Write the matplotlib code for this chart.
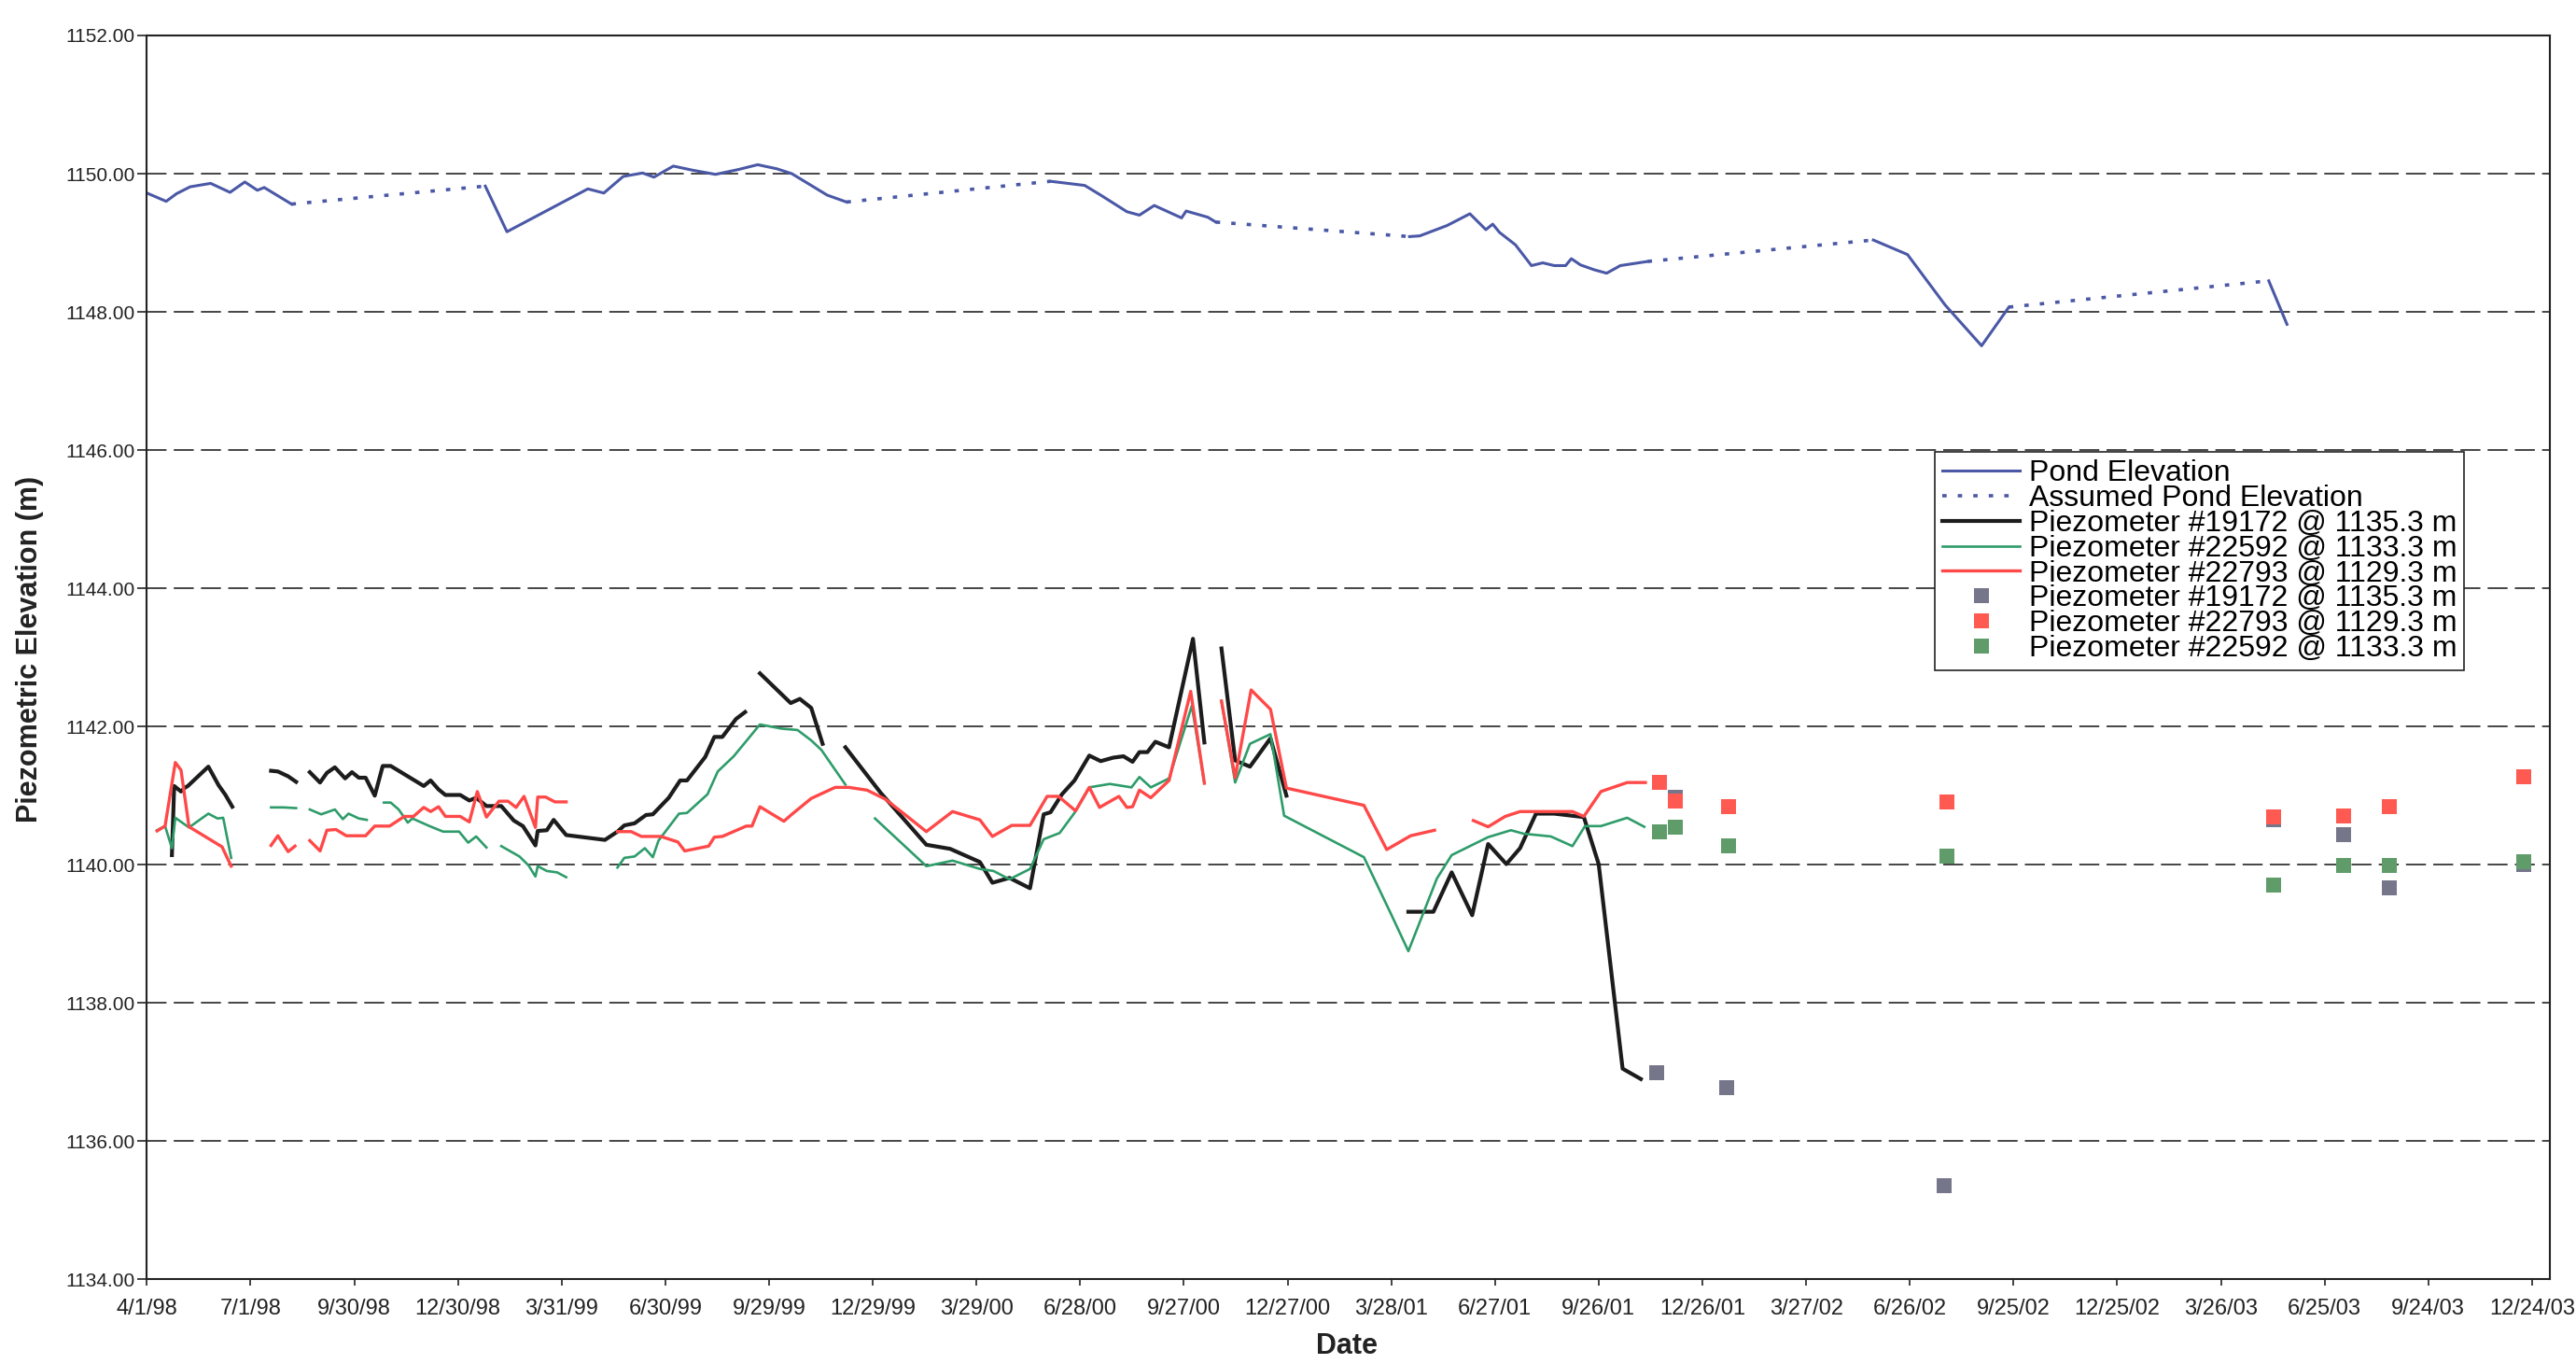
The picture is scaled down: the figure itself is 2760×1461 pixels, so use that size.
import numpy as np
import matplotlib
matplotlib.use('Agg')
import matplotlib.pyplot as plt

plt.rcParams['font.family'] = ['Liberation Sans', 'DejaVu Sans']

# x axis: days since 4/1/98, ticks every 91 days
tick_labels = ['4/1/98', '7/1/98', '9/30/98', '12/30/98', '3/31/99', '6/30/99',
               '9/29/99', '12/29/99', '3/29/00', '6/28/00', '9/27/00', '12/27/00',
               '3/28/01', '6/27/01', '9/26/01', '12/26/01', '3/27/02', '6/26/02',
               '9/25/02', '12/25/02', '3/26/03', '6/25/03', '9/24/03', '12/24/03']
tick_step = 91

# Pond elevation (measured), None = gap
pond_days = [0, 17, 26, 38, 56, 73, 86, 97, 103, 127, None,
             297, 316, 387, 401, 418, 435, 445, 462, 479, 499, 519, 536, 553, 566, 597, 614, None,
             793, 823, 837, 860, 871, 884, 908, 912, 931, 938, None,
             1108, 1117, 1141, 1161, 1175, 1181, 1187, 1201, 1215, 1225, 1235, 1245, 1250, 1258,
             1270, 1281, 1293, 1317, None,
             1515, 1545, 1578, 1610, 1634, None,
             1862, 1878]
pond_vals = [1149.72, 1149.60, 1149.71, 1149.81, 1149.86, 1149.73, 1149.88, 1149.76, 1149.80, 1149.56, None,
             1149.82, 1149.16, 1149.78, 1149.72, 1149.96, 1150.01, 1149.95, 1150.11, 1150.05, 1149.99,
             1150.06, 1150.13, 1150.07, 1150.00, 1149.69, 1149.59, None,
             1149.89, 1149.83, 1149.69, 1149.45, 1149.40, 1149.54, 1149.36, 1149.46, 1149.37, 1149.30, None,
             1149.09, 1149.10, 1149.25, 1149.42, 1149.19, 1149.27, 1149.15, 1148.97, 1148.67, 1148.71,
             1148.67, 1148.67, 1148.77, 1148.68, 1148.61, 1148.56, 1148.67, 1148.73, None,
             1149.04, 1148.83, 1148.10, 1147.51, 1148.07, None,
             1148.45, 1147.82]

# Assumed pond elevation (dotted, bridges the gaps)
assumed_days = [127, 297, None, 614, 793, None, 938, 1108, None, 1317, 1515, None, 1634, 1862]
assumed_vals = [1149.56, 1149.82, None, 1149.59, 1149.89, None, 1149.30, 1149.09, None,
                1148.73, 1149.04, None, 1148.07, 1148.45]

# Piezometer #19172
p19172_days = [22, 24, 30, 33, 36, 54, 63, 69, 75, None,
               109, 115, 124, 131, None,
               143, 152, 158, 165, 174, 180, 186, 192, 200, 207, 214, 243, 249, 256, 262, 275, 283,
               289, 298, 311, 322, 330, 341, 343, 351, 357, 368, 402, 413, 419, 428, 438, 444, 458,
               468, 474, 490, 498, 505, 517, 525, None,
               538, 565, 573, 583, 593, None,
               613, 644, 684, 705, 731, 742, 757, 775, 787, 793, 803, 814, 827, 837, 848, 857, 865,
               871, 878, 885, 897, 918, 928, None,
               943, 955, 968, 986, 1000, None,
               1107, 1129, 1145, 1163, 1177, 1193, 1205, 1219, 1235, 1261, 1274, 1295, 1311]
p19172_vals = [1140.14, 1141.14, 1141.06, 1141.11, 1141.14, 1141.42, 1141.15, 1141.01, 1140.84, None,
               1141.36, 1141.35, 1141.28, 1141.20, None,
               1141.34, 1141.19, 1141.33, 1141.41, 1141.25, 1141.34, 1141.26, 1141.26, 1141.00, 1141.43,
               1141.43, 1141.14, 1141.22, 1141.09, 1141.01, 1141.01, 1140.93, 1140.97, 1140.85, 1140.85,
               1140.64, 1140.56, 1140.28, 1140.49, 1140.50, 1140.65, 1140.43, 1140.36, 1140.48, 1140.57,
               1140.60, 1140.72, 1140.73, 1140.97, 1141.22, 1141.22, 1141.56, 1141.85, 1141.85, 1142.11,
               1142.21, None,
               1142.77, 1142.34, 1142.40, 1142.27, 1141.75, None,
               1141.70, 1141.04, 1140.29, 1140.23, 1140.04, 1139.74, 1139.81, 1139.66, 1140.73, 1140.76,
               1141.02, 1141.22, 1141.58, 1141.50, 1141.55, 1141.57, 1141.49, 1141.63, 1141.63, 1141.78,
               1141.70, 1143.27, 1141.77, None,
               1143.13, 1141.51, 1141.42, 1141.83, 1141.00, None,
               1139.32, 1139.32, 1139.89, 1139.27, 1140.30, 1140.01, 1140.24, 1140.74, 1140.74, 1140.69,
               1140.01, 1137.05, 1136.90]

# Piezometer #22592
p22592_days = [9, 16, 22, 25, 37, 54, 62, 67, 74, None,
               109, 120, 131, None,
               143, 153, 165, 172, 177, 186, 193, None,
               208, 214, 221, 229, 233, 248, 260, 274, 282, 289, 298, None,
               311, 327, 335, 341, 343, 351, 360, 368, None,
               413, 419, 428, 437, 444, 449, 467, 474, 492, 501, 515, 538, 557, 571, 583, 592, 613, None,
               639, 684, 707, 731, 743, 757, 775, 787, 801, 814, 827, 845, 864, 871, 881, 897, 917, 928, None,
               943, 955, 968, 986, 998, 1068, 1092, 1107, 1132, 1145, 1177, 1197, 1208, 1232, 1251, 1262,
               1276, 1299, 1314]
p22592_vals = [1140.50, 1140.56, 1140.24, 1140.68, 1140.54, 1140.74, 1140.67, 1140.68, 1140.10, None,
               1140.83, 1140.83, 1140.82, None,
               1140.80, 1140.73, 1140.80, 1140.66, 1140.74, 1140.67, 1140.65, None,
               1140.90, 1140.90, 1140.80, 1140.61, 1140.67, 1140.56, 1140.48, 1140.48, 1140.32, 1140.41,
               1140.25, None,
               1140.27, 1140.12, 1139.99, 1139.83, 1139.98, 1139.91, 1139.89, 1139.82, None,
               1139.96, 1140.10, 1140.12, 1140.24, 1140.11, 1140.35, 1140.74, 1140.75, 1141.02, 1141.35,
               1141.57, 1142.03, 1141.97, 1141.95, 1141.80, 1141.66, 1141.16, None,
               1140.67, 1139.98, 1140.06, 1139.94, 1139.91, 1139.79, 1139.94, 1140.37, 1140.46, 1140.75,
               1141.12, 1141.17, 1141.12, 1141.27, 1141.12, 1141.25, 1142.30, 1141.18, None,
               1142.37, 1141.19, 1141.75, 1141.89, 1140.71, 1140.11, 1139.28, 1138.75, 1139.80, 1140.14,
               1140.40, 1140.50, 1140.45, 1140.41, 1140.27, 1140.56, 1140.56, 1140.68, 1140.55]

# Piezometer #22793
p22793_days = [9, 16, 25, 30, 37, 66, 74, None,
               109, 115, 124, 130, None,
               143, 152, 158, 166, 175, 192, 200, 213, 226, 234, 243, 249, 256, 262, 275, 283, 290, 298,
               309, 317, 324, 331, 341, 343, 350, 358, 368, None,
               413, 425, 434, 451, 466, 472, 493, 498, 505, 526, 531, 538, 559, 566, 583, 604, 616, 632,
               648, 665, 684, 707, 731, 742, 759, 775, 790, 800, 815, 827, 836, 853, 860, 865, 871, 881,
               897, 916, 928, None,
               943, 955, 969, 986, 1000, 1068, 1088, 1109, 1130, None,
               1164, 1177, 1192, 1205, 1219, 1251, 1261, 1276, 1299, 1315]
p22793_vals = [1140.49, 1140.56, 1141.48, 1141.37, 1140.55, 1140.26, 1139.98, None,
               1140.28, 1140.42, 1140.19, 1140.27, None,
               1140.35, 1140.20, 1140.50, 1140.51, 1140.42, 1140.42, 1140.56, 1140.56, 1140.70, 1140.70,
               1140.83, 1140.77, 1140.84, 1140.70, 1140.70, 1140.62, 1141.06, 1140.69, 1140.92, 1140.92,
               1140.83, 1140.99, 1140.54, 1140.98, 1140.98, 1140.91, 1140.91, None,
               1140.48, 1140.48, 1140.41, 1140.41, 1140.33, 1140.20, 1140.27, 1140.40, 1140.41, 1140.56,
               1140.56, 1140.84, 1140.63, 1140.73, 1140.96, 1141.12, 1141.12, 1141.08, 1140.95, 1140.73,
               1140.48, 1140.77, 1140.65, 1140.41, 1140.57, 1140.57, 1140.99, 1140.99, 1140.78, 1141.12,
               1140.83, 1140.99, 1140.83, 1140.84, 1141.08, 1140.97, 1141.22, 1142.51, 1141.18, None,
               1142.37, 1141.26, 1142.53, 1142.25, 1141.11, 1140.86, 1140.22, 1140.42, 1140.50, None,
               1140.64, 1140.55, 1140.70, 1140.77, 1140.77, 1140.77, 1140.70, 1141.06, 1141.19, 1141.19]

# single readings (squares)
m19172_days = [1325, 1341, 1386, 1577, 1866, 1928, 1968, 2086]
m19172_vals = [1136.99, 1140.98, 1136.78, 1135.36, 1140.65, 1140.44, 1139.67, 1140.00]
m22793_days = [1327, 1341, 1388, 1580, 1866, 1928, 1968, 2086]
m22793_vals = [1141.19, 1140.92, 1140.84, 1140.91, 1140.69, 1140.70, 1140.84, 1141.27]
m22592_days = [1327, 1341, 1388, 1580, 1866, 1928, 1968, 2086]
m22592_vals = [1140.47, 1140.55, 1140.27, 1140.13, 1139.70, 1139.99, 1139.99, 1140.05]


def arr(a):
    return np.array(a, dtype=float)


fig = plt.figure(figsize=(27.6, 14.61), dpi=100)
ax = fig.add_axes([0.057, 0.062, 0.933, 0.912])

ax.plot(arr(pond_days), arr(pond_vals), color='#4a58a6', lw=2.2, label='Pond Elevation')
ax.plot(arr(assumed_days), arr(assumed_vals), color='#4a58a6', lw=2.6, ls=(0, (1.3, 3.3)),
        label='Assumed Pond Elevation')
ax.plot(arr(p19172_days), arr(p19172_vals), color='#1c1c1c', lw=3.0,
        label='Piezometer #19172 @ 1135.3 m')
ax.plot(arr(p22592_days), arr(p22592_vals), color='#2e9c6a', lw=1.9,
        label='Piezometer #22592 @ 1133.3 m')
ax.plot(arr(p22793_days), arr(p22793_vals), color='#ff4848', lw=2.4,
        label='Piezometer #22793 @ 1129.3 m')
ax.plot(m19172_days, m19172_vals, ls='none', marker='s', ms=11.5, mew=0, color='#76768a',
        label='Piezometer #19172 @ 1135.3 m')
ax.plot(m22793_days, m22793_vals, ls='none', marker='s', ms=11.5, mew=0, color='#ff5a52',
        label='Piezometer #22793 @ 1129.3 m')
ax.plot(m22592_days, m22592_vals, ls='none', marker='s', ms=11.5, mew=0, color='#5f9c6a',
        label='Piezometer #22592 @ 1133.3 m')

# axes
ax.set_xlim(0, 2109)
ax.set_ylim(1134, 1152)
ax.set_xticks(np.arange(len(tick_labels)) * tick_step)
ax.set_xticklabels(tick_labels)
ax.set_yticks(np.arange(1134, 1153, 2))
ax.set_yticklabels(['%.2f' % v for v in np.arange(1134, 1153, 2)])
ax.tick_params(axis='both', colors='#222222', direction='out')
ax.tick_params(axis='x', labelsize=17, length=5, width=1.2, pad=10)
ax.tick_params(axis='y', labelsize=15, length=7, width=1.2, pad=2)
for s in ax.spines.values():
    s.set_linewidth(1.5)
    s.set_color('#222222')

ax.set_axisbelow(True)
ax.yaxis.grid(True, ls=(0, (11, 4)), color='#444444', lw=1.4)

fig.text(0.0116, 0.524, 'Piezometric Elevation (m)', rotation=90, ha='center', va='center',
         fontsize=22, fontweight='bold', color='#222222')
fig.text(0.523, 0.013, 'Date', ha='center', va='center', fontsize=22, fontweight='bold',
         color='#222222')

leg = ax.legend(loc='upper left', bbox_to_anchor=(0.744, 0.665), fontsize=23, frameon=True,
                fancybox=False, edgecolor='#222222', framealpha=1, borderpad=0.25,
                labelspacing=-0.1, handlelength=2.6, handletextpad=0.3, borderaxespad=0)
leg.get_frame().set_linewidth(1.2)

fig.savefig('out.png', dpi=100)
